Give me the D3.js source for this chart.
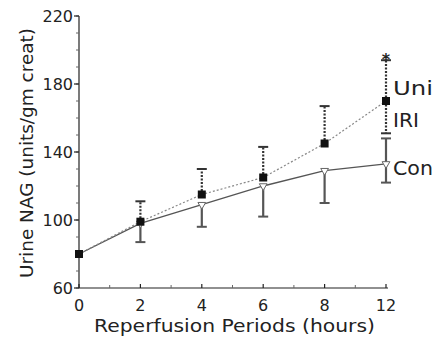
<!DOCTYPE html>
<html>
<head>
<meta charset="utf-8">
<script src="https://cdn.jsdelivr.net/npm/d3@7"></script>
<style>
  html, body { margin: 0; padding: 0; background: #fff; }
  svg { display: block; }
  text { font-family: "DejaVu Sans", sans-serif; fill: #222; }
</style>
</head>
<body>
<svg id="chart" width="433" height="342"></svg>
<script>
// Reperfusion periods (hours)
const hours = ["0", "2", "4", "6", "8", "12"];

// Unilateral IRI: mean urine NAG and error-bar ends
const iriMean = [80, 99, 115, 125, 145, 170];
const iriHigh = [null, 111, 130, 143, 167, 194];
const iriLow  = [null, null, null, null, null, 151];

// Control: mean urine NAG and error-bar ends
const ctrlMean = [80, 98, 109, 120, 129, 133];
const ctrlLow  = [null, 87, 96, 102, 110, 122];
const ctrlHigh = [null, null, null, null, null, 148];

const yTicks = [60, 100, 140, 180, 220];
const yMinor = d3.range(60, 221, 10);

const seriesLabels = ["Uni", "IRI", "Con"];

const svg = d3.select("#chart");

const x = d3.scalePoint().domain(hours).range([79, 386]);
const y = d3.scaleLinear().domain([60, 220]).range([288, 16]);

const ink = "#222";

// Axes
const g = svg.append("g");
g.append("line").attr("x1", x(hours[0])).attr("x2", x(hours[0]))
  .attr("y1", y(220)).attr("y2", y(60)).attr("stroke", ink).attr("stroke-width", 1.2);
g.append("line").attr("x1", x(hours[0])).attr("x2", x(hours[hours.length - 1]) + 2)
  .attr("y1", y(60)).attr("y2", y(60)).attr("stroke", ink).attr("stroke-width", 1.2);

// y ticks: minor every 10, labelled every 40
g.selectAll(".ymin").data(yMinor).join("line")
  .attr("x1", x(hours[0]) - 3).attr("x2", x(hours[0]))
  .attr("y1", d => y(d)).attr("y2", d => y(d))
  .attr("stroke", "#666").attr("stroke-width", 1);
g.selectAll(".ymaj").data(yTicks).join("line")
  .attr("x1", x(hours[0]) - 5).attr("x2", x(hours[0]))
  .attr("y1", d => y(d)).attr("y2", d => y(d))
  .attr("stroke", ink).attr("stroke-width", 1.2);
g.selectAll(".ylab").data(yTicks).join("text")
  .attr("x", 73).attr("y", d => y(d))
  .attr("text-anchor", "end").attr("dominant-baseline", "central")
  .style("font-size", "16px").text(d => d);

// x ticks at categories and midpoints
const mids = d3.pairs(hours).map(([a, b]) => (x(a) + x(b)) / 2);
g.selectAll(".xmin").data(mids).join("line")
  .attr("x1", d => d).attr("x2", d => d)
  .attr("y1", y(60) - 3).attr("y2", y(60))
  .attr("stroke", "#666").attr("stroke-width", 1);
g.selectAll(".xmaj").data(hours).join("line")
  .attr("x1", d => x(d)).attr("x2", d => x(d))
  .attr("y1", y(60) - 4).attr("y2", y(60))
  .attr("stroke", ink).attr("stroke-width", 1.2);
g.selectAll(".xlab").data(hours).join("text")
  .attr("x", d => x(d)).attr("y", 305)
  .attr("text-anchor", "middle").attr("dominant-baseline", "central")
  .style("font-size", "16px").text(d => d);

// Axis titles
svg.append("text")
  .attr("x", 94).attr("y", 325)
  .attr("dominant-baseline", "central")
  .attr("textLength", 281).attr("lengthAdjust", "spacingAndGlyphs")
  .style("font-size", "18px")
  .text("Reperfusion Periods (hours)");
svg.append("text")
  .attr("transform", "translate(27,153) rotate(-90)")
  .attr("text-anchor", "middle").attr("dominant-baseline", "central")
  .attr("textLength", 250).attr("lengthAdjust", "spacingAndGlyphs")
  .style("font-size", "17px")
  .text("Urine NAG (units/gm creat)");

// Series lines
const line = d3.line().x((d, i) => x(hours[i])).y(d => y(d));
svg.append("path").datum(ctrlMean).attr("d", line)
  .attr("fill", "none").attr("stroke", "#555").attr("stroke-width", 1.3);
svg.append("path").datum(iriMean).attr("d", line)
  .attr("fill", "none").attr("stroke", "#888").attr("stroke-width", 1.2)
  .attr("stroke-dasharray", "2,2");

// Error bars
function errBars(means, ends, color, dash) {
  const data = ends.map((e, i) => ({ h: hours[i], m: means[i], e })).filter(d => d.e != null);
  const eb = svg.append("g");
  eb.selectAll("line.stem").data(data).join("line")
    .attr("x1", d => x(d.h)).attr("x2", d => x(d.h))
    .attr("y1", d => y(d.m)).attr("y2", d => y(d.e))
    .attr("stroke", color).attr("stroke-width", 2.2)
    .attr("stroke-dasharray", dash);
  eb.selectAll("line.cap").data(data).join("line")
    .attr("x1", d => x(d.h) - 5).attr("x2", d => x(d.h) + 5)
    .attr("y1", d => y(d.e)).attr("y2", d => y(d.e))
    .attr("stroke", color).attr("stroke-width", 2);
}
errBars(ctrlMean, ctrlLow, "#555", null);
errBars(ctrlMean, ctrlHigh, "#555", null);
errBars(iriMean, iriHigh, "#333", "2,1.5");
errBars(iriMean, iriLow, "#333", "2,1.5");

// Control markers: small open triangles
svg.selectAll(".ctrlPt").data(ctrlMean.slice(1)).join("path")
  .attr("transform", (d, i) => `translate(${x(hours[i + 1])},${y(d)}) rotate(180)`)
  .attr("d", d3.symbol(d3.symbolTriangle, 26))
  .attr("fill", "#fff").attr("stroke", "#666").attr("stroke-width", 1);

// IRI markers: filled squares
svg.selectAll(".iriPt").data(iriMean).join("rect")
  .attr("x", (d, i) => x(hours[i]) - 4).attr("y", d => y(d) - 4)
  .attr("width", 8).attr("height", 8).attr("fill", "#111");

// Significance mark sitting on the top cap
svg.append("text")
  .attr("x", x("12")).attr("y", y(iriHigh[5]) + 5)
  .attr("text-anchor", "middle")
  .style("font-size", "16px").style("font-weight", "bold")
  .text("*");

// Series labels at the right edge
const labelY = [88, 120, 168];
const labelW = [40, 26, 40];
svg.selectAll(".slab").data(seriesLabels).join("text")
  .attr("x", 393).attr("y", (d, i) => labelY[i])
  .attr("dominant-baseline", "central")
  .attr("textLength", (d, i) => labelW[i]).attr("lengthAdjust", "spacingAndGlyphs")
  .style("font-size", "19px")
  .text(d => d);
</script>
</body>
</html>
